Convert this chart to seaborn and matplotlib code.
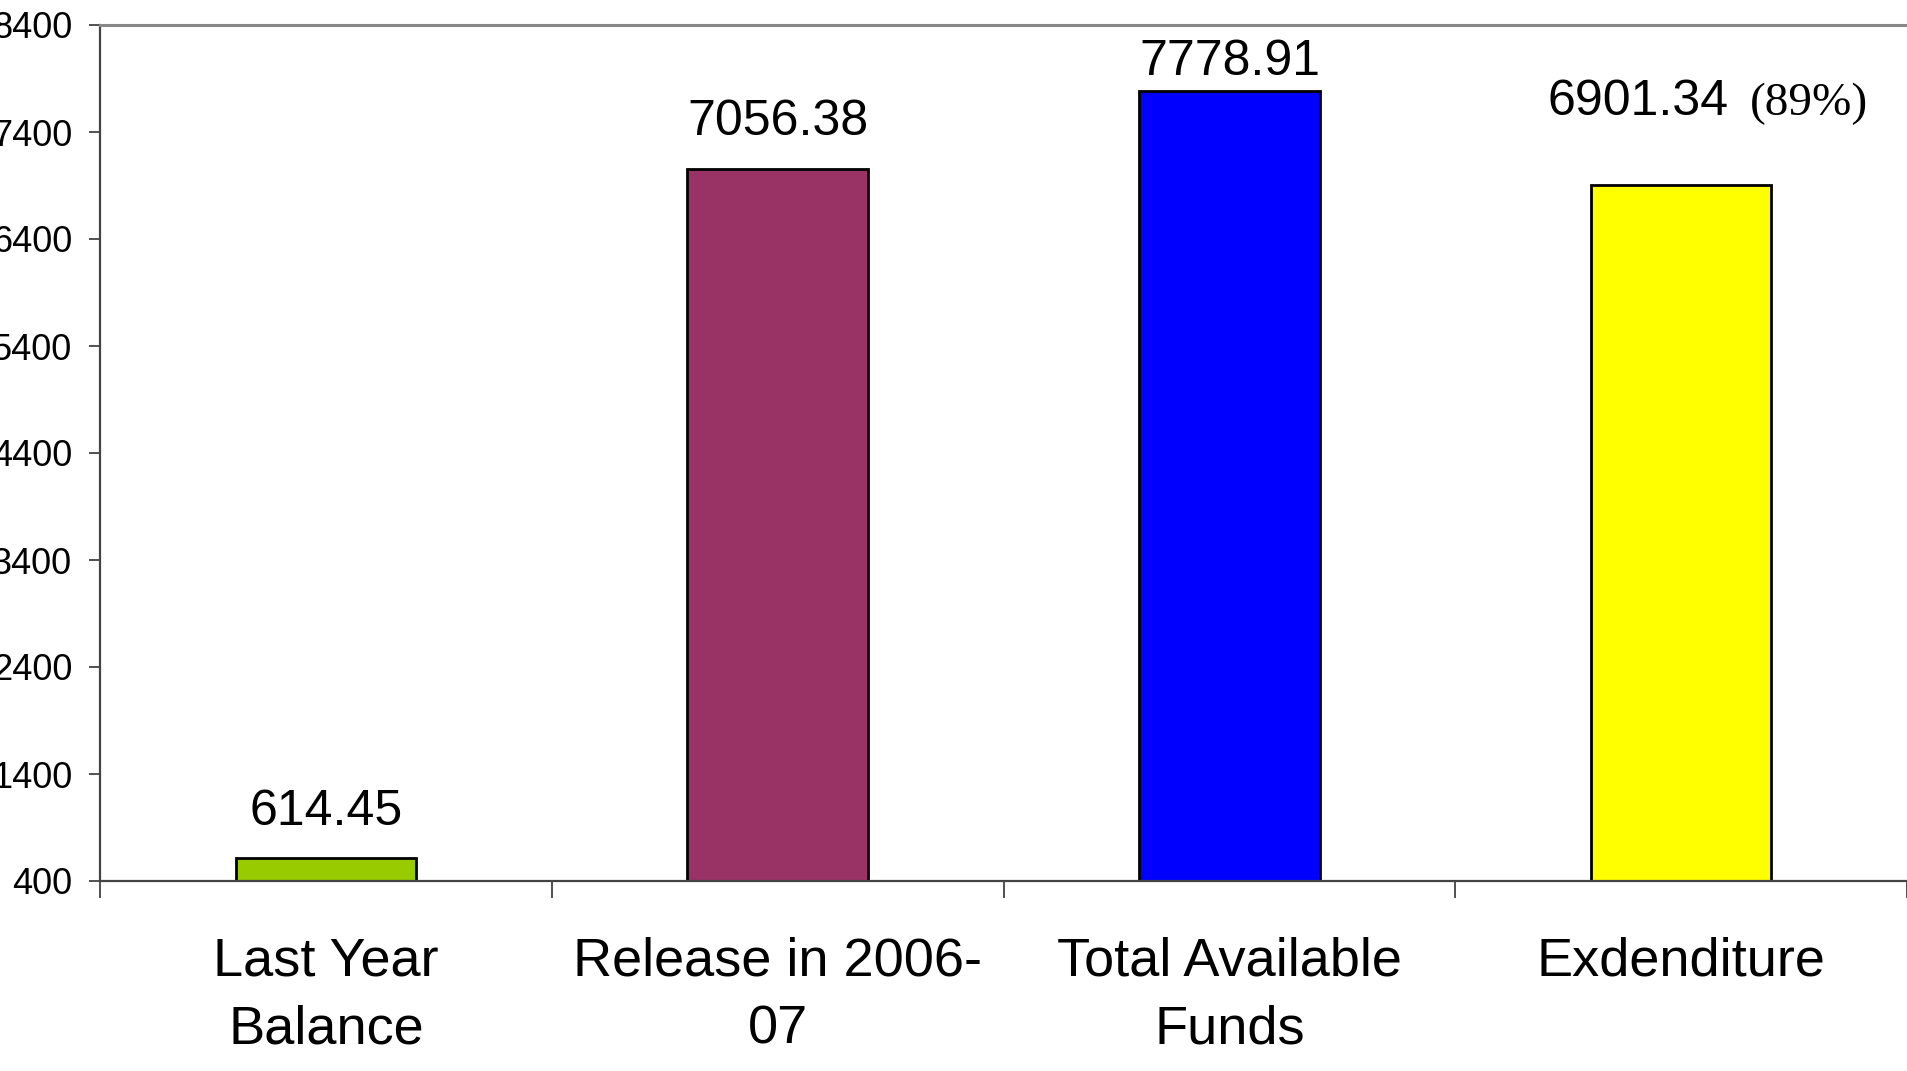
import matplotlib
matplotlib.use("Agg")
import matplotlib.pyplot as plt
import seaborn as sns
import pandas as pd

categories = ["Last Year\nBalance", "Release in 2006-\n07", "Total Available\nFunds", "Exdenditure"]
values = [614.45, 7056.38, 7778.91, 6901.34]
value_labels = ["614.45", "7056.38", "7778.91", "6901.34"]
bar_colors = ["#99CC00", "#993366", "#0000FF", "#FFFF00"]
y_ticks = [400, 1400, 2400, 3400, 4400, 5400, 6400, 7400, 8400]
pct_label = "(89%)"

sns.set_style("white")
plt.rcParams['font.family'] = ['Liberation Sans', 'DejaVu Sans']
plt.rcParams['text.color'] = 'black'
plt.rcParams['xtick.color'] = 'black'
plt.rcParams['ytick.color'] = 'black'

df = pd.DataFrame({"cat": categories, "val": values})

fig = plt.figure(figsize=(19.07, 10.71), dpi=100)
ax = fig.add_axes([100 / 1907, 1 - 881 / 1071, 1 - 100 / 1907, (881 - 25) / 1071])

sns.barplot(data=df, x="cat", y="val", hue="cat", palette=bar_colors, width=0.4,
            edgecolor="black", linewidth=2, legend=False, ax=ax, saturation=1)

ax.set_ylim(400, 8400)
ax.set_xlim(-0.5, 3.5)
ax.set_yticks(y_ticks)
ax.set_yticklabels([str(t) for t in y_ticks], fontsize=26)
ax.set_xlabel("")
ax.set_ylabel("")

# category labels at bar centres, tick marks on the boundaries
ax.set_xticks(range(len(categories)))
ax.set_xticklabels(categories, fontsize=39, linespacing=1.45)
ax.tick_params(axis="x", which="major", length=0, pad=40)
ax.set_xticks([i - 0.5 for i in range(len(categories) + 1)], minor=True)
ax.tick_params(axis="x", which="minor", length=12, width=1.2, color="#333333", direction="out", bottom=True)
ax.tick_params(axis="y", length=8, width=1.2, color="#333333", direction="out", pad=12, left=True)

for side in ["left", "bottom"]:
    ax.spines[side].set_color("#444444")
    ax.spines[side].set_linewidth(1.6)
ax.spines["top"].set_color("#888888")
ax.spines["top"].set_linewidth(2.2)
ax.spines["right"].set_visible(False)

offsets = [24, 24, 12]
for i, (v, lab, off) in enumerate(zip(values[:3], value_labels[:3], offsets)):
    ax.annotate(lab, (i, v), xytext=(0, off), textcoords="offset points",
                ha="center", va="baseline", fontsize=36)

# last bar: label sits higher with the percentage in a serif face
ax.annotate(value_labels[3], (3, values[3]), xytext=(1729 - 1681, 70), textcoords="offset pixels",
            ha="right", va="baseline", fontsize=36)
ax.annotate(pct_label, (3, values[3]), xytext=(1750 - 1681, 70), textcoords="offset pixels",
            ha="left", va="baseline", fontsize=34, family=["Liberation Serif", "DejaVu Serif"])

fig.savefig("out.png", dpi=100)
